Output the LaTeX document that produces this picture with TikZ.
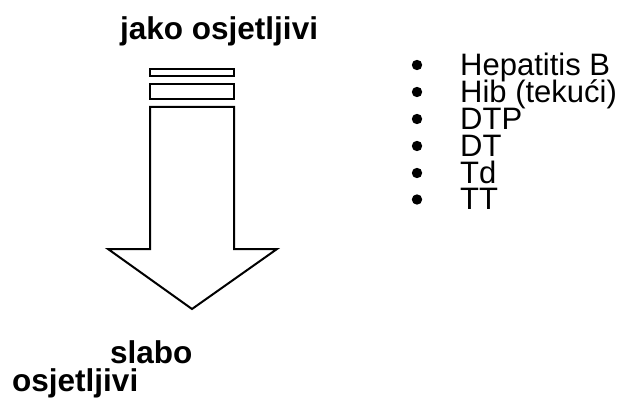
\documentclass[tikz,border=0pt]{standalone}
\usepackage{fontspec}
\setmainfont{Liberation Sans}
\begin{document}
\begin{tikzpicture}[x=1pt,y=-1pt,
  boldlbl/.style={anchor=base west,inner sep=0pt,text height=23pt,text depth=4pt,font=\fontsize{31.5}{33}\selectfont\bfseries},
  item/.style={anchor=base west,inner sep=0pt,text height=22pt,text depth=4.5pt,font=\fontsize{31}{33}\selectfont},
  outl/.style={draw=black,line width=2pt,fill=white,line join=miter}]
\useasboundingbox (0,0) rectangle (623,403);
% title
\node[boldlbl] (top) at (120,40) {jako osjetljivi};
% stripes
\draw[outl] (150,69) rectangle (234,76);
\draw[outl] (150,84) rectangle (234,99);
% arrow
\draw[outl] (150,107) -- (234,107) -- (234,249) -- (277,249) -- (192,309) -- (108,249) -- (150,249) -- cycle;
% bottom label
\node[boldlbl] (bot1) at (110,363) {slabo};
\node[boldlbl] (bot2) at (12,391) {osjetljivi};
% list
\foreach \t/\y/\n in {Hepatitis B/75.5/i1, Hib (tekući)/102.5/i2, DTP/129.5/i3, DT/156.5/i4, Td/183.5/i5, TT/210/i6}{
  \node[item] (\n) at (460,\y) {\t};
  \fill (417,\y-10.5) circle (5.2);
}
\end{tikzpicture}
\end{document}
